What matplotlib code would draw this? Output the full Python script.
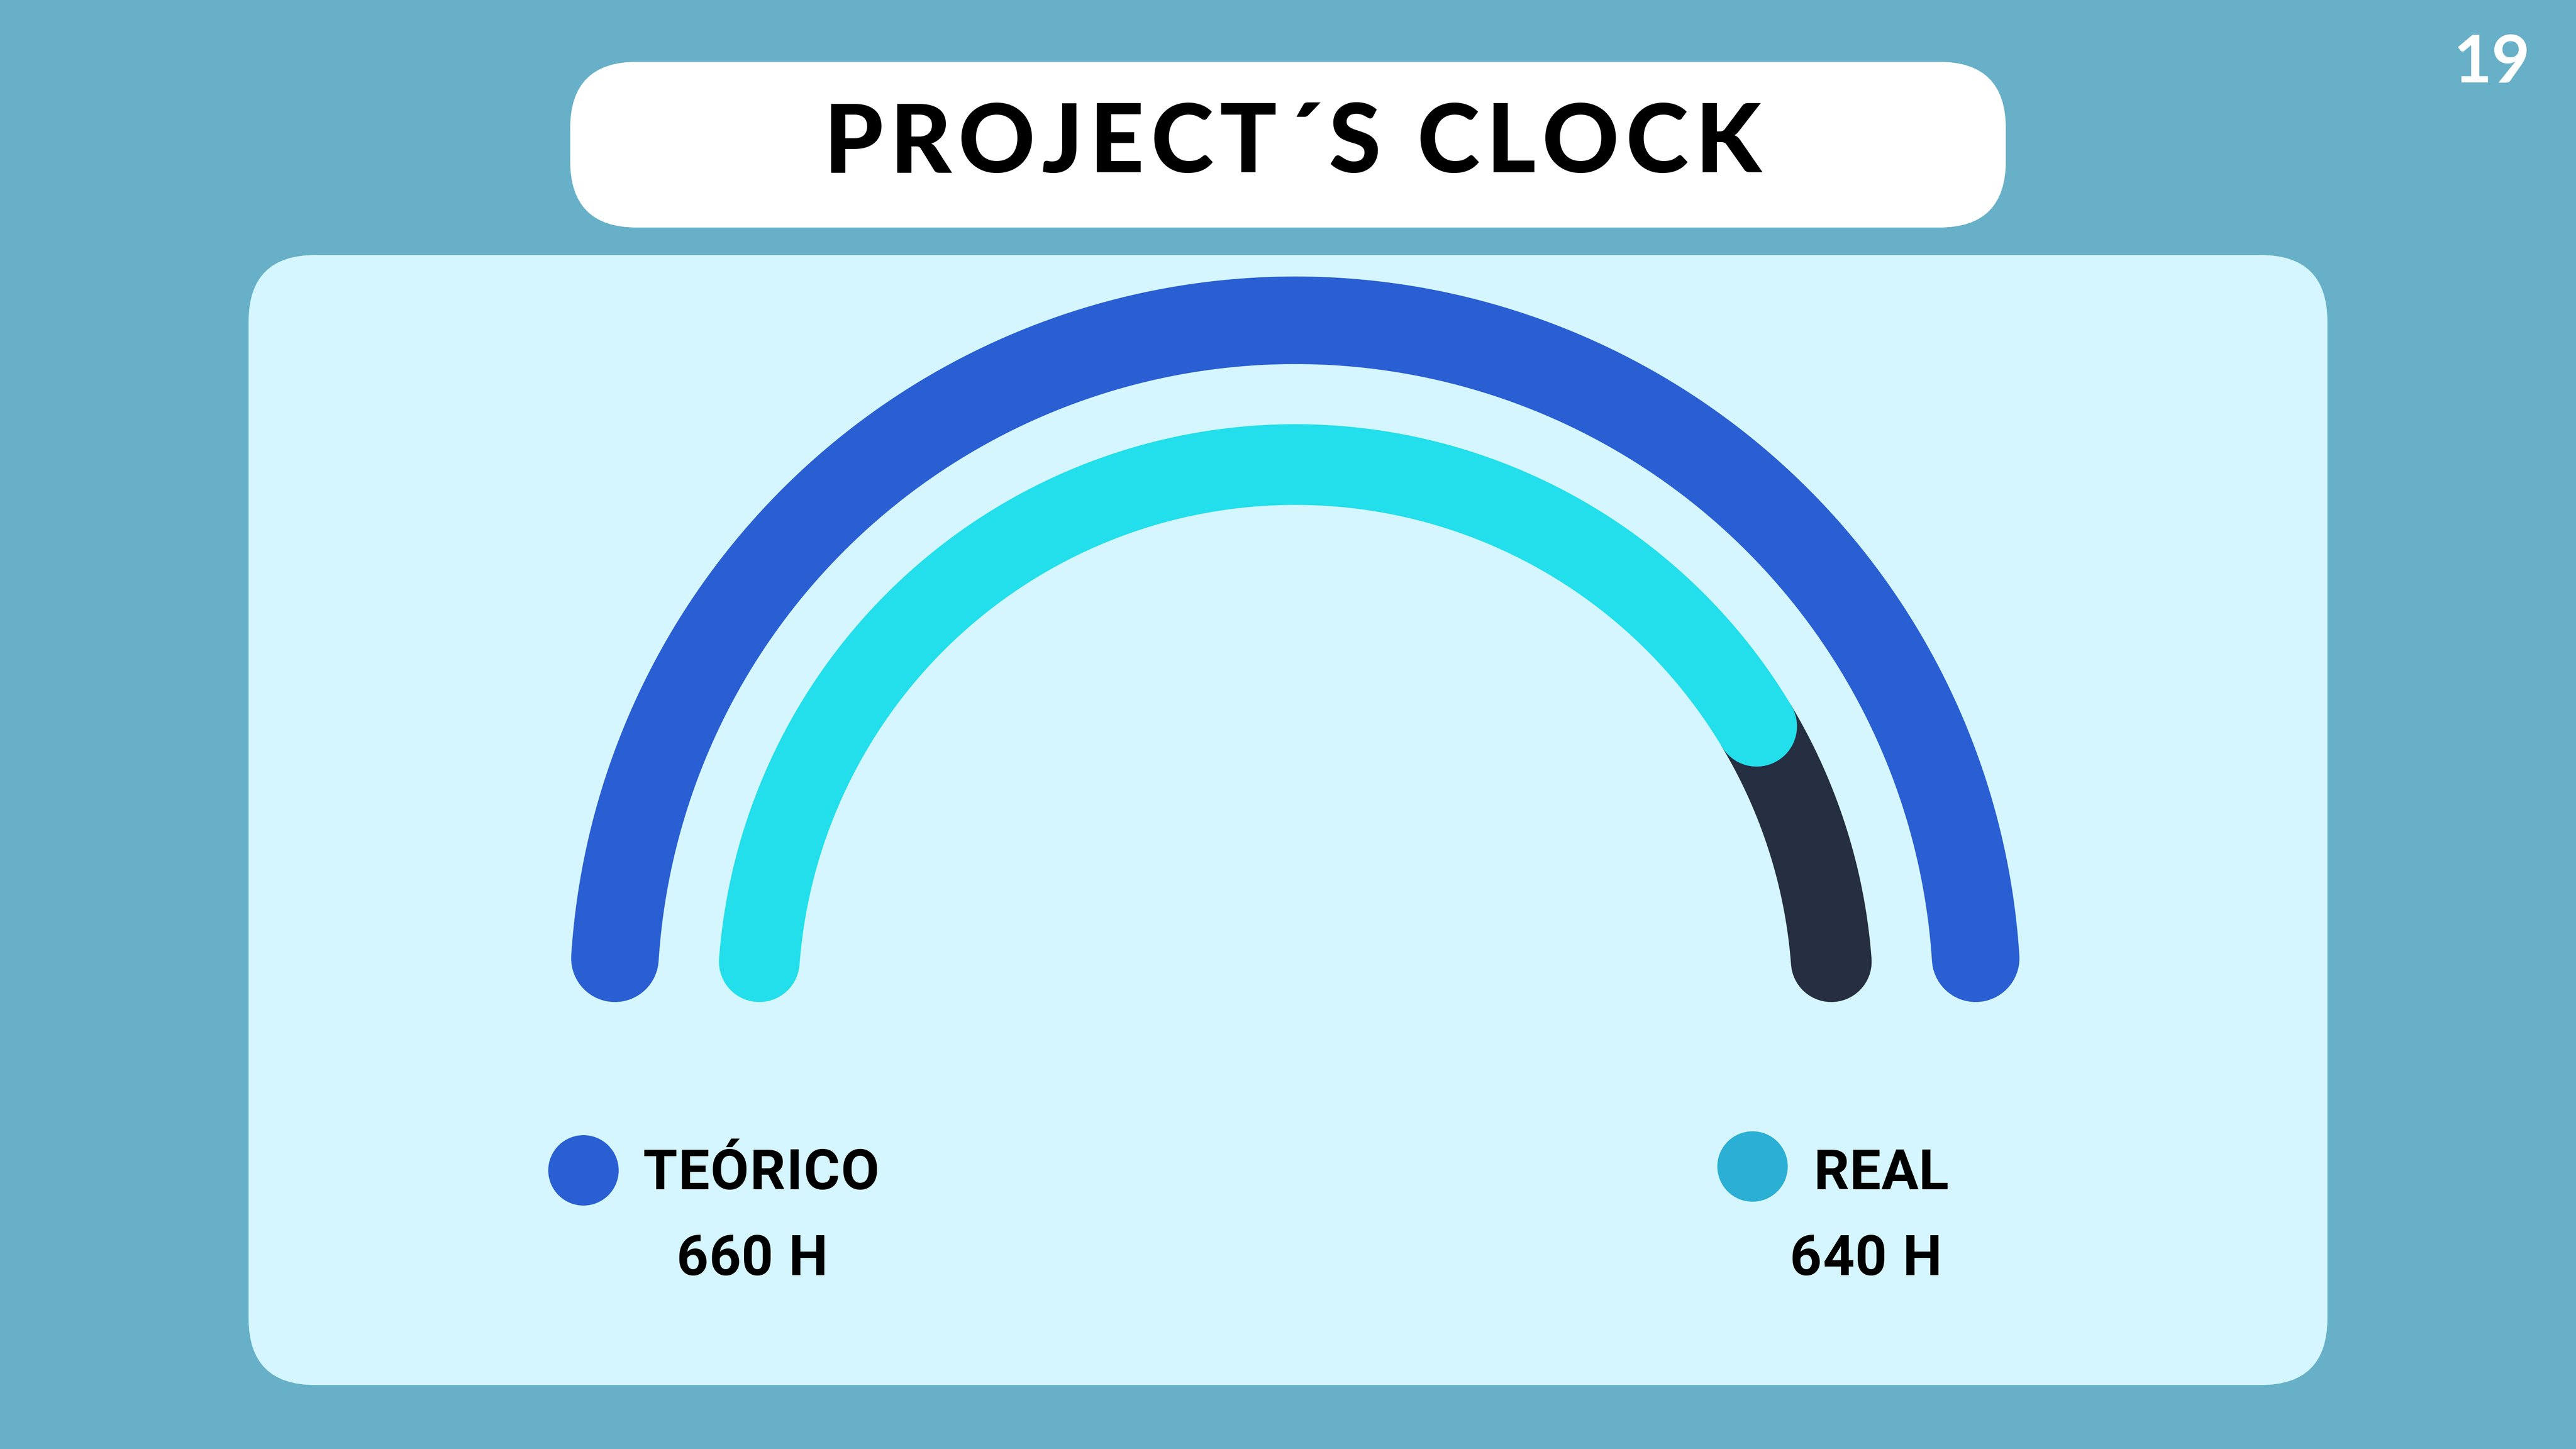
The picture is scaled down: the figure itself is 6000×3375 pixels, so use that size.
import matplotlib
matplotlib.use("Agg")
import matplotlib.pyplot as plt
import numpy as np
from matplotlib.patches import FancyBboxPatch
from matplotlib import font_manager

# ---------------- data ----------------
series = ["TEÓRICO", "REAL"]
hours = [660, 640]
hour_labels = [f"{h} H" for h in hours]
arc_fill = [1.0, 0.845]          # share of the gauge drawn for each ring
title = "PROJECT´S CLOCK"
page_number = "19"

# ---------------- style ----------------
BG = "#67B0C8"
PANEL = "#D5F6FE"
BLUE = "#2A5FD3"
CYAN = "#22DFEB"
DARK = "#262E42"
REAL_DOT = "#2BAFD4"
dot_colors = [BLUE, REAL_DOT]

names = {f.name for f in font_manager.fontManager.ttflist}
LEG_FONT = "Liberation Sans Narrow" if "Liberation Sans Narrow" in names else "Roboto"
TITLE_FONT = "Lato"

W, H, DPI = 6000, 3375, 300
fig = plt.figure(figsize=(W / DPI, H / DPI), dpi=DPI, facecolor=BG)
ax = fig.add_axes([0, 0, 1, 1])
ax.set_xlim(0, W)
ax.set_ylim(H, 0)
ax.axis("off")
ax.set_facecolor(BG)


def px2pt(p):
    return p * 72.0 / DPI


# panel and title box
ax.add_patch(FancyBboxPatch((579, 594), 5421 - 579, 3226 - 594,
                            boxstyle="round,pad=0,rounding_size=155",
                            fc=PANEL, ec="none", zorder=1))
ax.add_patch(FancyBboxPatch((1328, 144), 4672 - 1328, 530 - 144,
                            boxstyle="round,pad=0,rounding_size=155",
                            fc="white", ec="none", zorder=1))

renderer = fig.canvas.get_renderer()


def adv(ch, **kw):
    t1 = ax.text(0, 0, "X" + ch + "X", **kw)
    t2 = ax.text(0, 0, "XX", **kw)
    w = t1.get_window_extent(renderer).width - t2.get_window_extent(renderer).width
    t1.remove(); t2.remove()
    return w


def ink(s, **kw):
    t = ax.text(0, 0, s, **kw)
    w = t.get_window_extent(renderer).width
    t.remove()
    return w


def tracked(s, x, y, width, ha="left", **kw):
    advs = [adv(c, **kw) for c in s]
    natural = sum(advs[:-1]) + ink(s[-1], **kw)
    track = (width - natural) / max(len(s) - 1, 1)
    x0 = x if ha == "left" else x - width / 2.0
    cur = x0
    for c, a in zip(s, advs):
        ax.text(cur, y, c, ha="left", va="baseline", **kw)
        cur += a + track


# title
tracked(title, 3010, 401, 2183, ha="center", fontsize=53, family=TITLE_FONT,
        fontweight="black", color="black", zorder=5)

# page number
ax.text(5804, 192, page_number, ha="center", va="baseline", fontsize=37,
        family=TITLE_FONT, fontweight="bold", color="white", zorder=5)

# ---------------- gauge ----------------
cx, cy = 3017, 2334
rings = [
    dict(R=1588, w=204, color=BLUE, track=None),
    dict(R=1252, w=188, color=CYAN, track=DARK),
]


def arc(R, t0, t1, color, wpx, z):
    th = np.radians(np.linspace(t0, t1, 600))
    ax.plot(cx + R * np.cos(th), cy - R * np.sin(th), color=color,
            lw=px2pt(wpx), solid_capstyle="round", zorder=z)


for ring, frac in zip(rings, arc_fill):
    inset = np.degrees(np.arcsin((ring["w"] / 2.0) / ring["R"]))
    start, stop = 180 - inset, inset
    end = start - frac * (start - stop)
    if ring["track"] is not None and frac < 1:
        arc(ring["R"], end, stop, ring["track"], ring["w"], 3)
    arc(ring["R"], start, end, ring["color"], ring["w"], 4)

# ---------------- legend ----------------
dot_pos = [(1359, 2726), (4082, 2717)]
name_pos = [(1497, 2770, 551), (4225, 2770, 314)]
val_pos = [(1752, 2970, 353), (4346, 2970, 354)]
for i in range(len(series)):
    ax.scatter([dot_pos[i][0]], [dot_pos[i][1]], s=px2pt(164) ** 2,
               color=dot_colors[i], edgecolors="none", zorder=5)
    tracked(series[i], name_pos[i][0], name_pos[i][1], name_pos[i][2],
            fontsize=31, family=LEG_FONT, fontweight="bold",
            color="black", zorder=5)
    tracked(hour_labels[i], val_pos[i][0], val_pos[i][1], val_pos[i][2],
            ha="center", fontsize=31, family=LEG_FONT,
            fontweight="bold", color="black", zorder=5)

fig.savefig("out.png", dpi=DPI, facecolor=BG)
